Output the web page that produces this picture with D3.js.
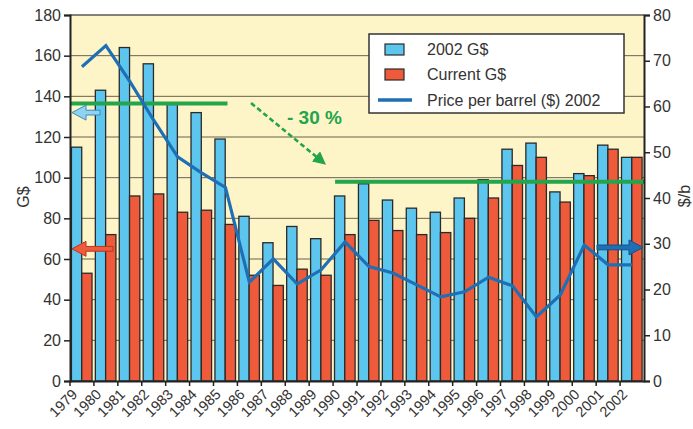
<!DOCTYPE html>
<html>
<head>
<meta charset="utf-8">
<script src="https://cdn.jsdelivr.net/npm/d3@7/dist/d3.min.js"></script>
<style>
  html, body { margin: 0; padding: 0; background: #ffffff; }
  svg { display: block; font-family: "Liberation Sans", Arial, Helvetica, sans-serif; }
</style>
</head>
<body>
<svg id="chart" width="693" height="429"></svg>
<script>
// Oil bill, 1979-2002
const years = ["1979","1980","1981","1982","1983","1984","1985","1986","1987","1988","1989","1990",
               "1991","1992","1993","1994","1995","1996","1997","1998","1999","2000","2001","2002"];
const billConstant2002 = [115,143,164,156,136,132,119,81,68,76,70,91,97,89,85,83,90,99,114,117,93,102,116,110];
const billCurrent      = [53,72,91,92,83,84,77,52,47,55,52,72,79,74,72,73,80,90,106,110,88,101,114,110];
const pricePerBarrel   = [68.7,73.3,65.5,57,49,45.5,42.3,21.6,26.7,21.2,24.3,30.4,25,23.6,21,18.4,19.5,22.7,20.8,14,18.8,29.7,25.4,25.4];
const leftTicks  = [0,20,40,60,80,100,120,140,160,180];
const rightTicks = [0,10,20,30,40,50,60,70,80];
const avgBefore = 136.5;   // average level 1979-1985
const avgAfter  = 98;      // average level 1990-2002
const seriesNames = ["2002 G$", "Current G$", "Price per barrel ($) 2002"];

const C = {
  plotBg: "#fdf5c8", grid: "#6b6150", blue: "#5cc6ef", red: "#ef5a3b",
  line: "#1f6fb5", green: "#22a54b", text: "#333333", stroke: "#2a2a2a"
};

const svg = d3.select("#chart");
const m = { left: 70, right: 644, top: 15, bottom: 381 };

const x = d3.scaleBand().domain(years).range([m.left, m.right]).padding(0);
const yL = d3.scaleLinear().domain([0, 180]).range([m.bottom, m.top]);
const yR = d3.scaleLinear().domain([0, 80]).range([m.bottom, m.top]);

// plot background
svg.append("rect")
  .attr("x", m.left).attr("y", m.top)
  .attr("width", m.right - m.left).attr("height", m.bottom - m.top)
  .attr("fill", C.plotBg);

// horizontal grid
svg.append("g").selectAll("line").data(leftTicks.filter(d => d > 0)).join("line")
  .attr("x1", m.left).attr("x2", m.right)
  .attr("y1", d => yL(d)).attr("y2", d => yL(d))
  .attr("stroke", C.grid).attr("stroke-width", 1);

// bars
const bw = x.bandwidth();
const barW = bw * 0.43;
const off = bw * 0.06;
const bars = svg.append("g");
bars.selectAll("rect.b").data(years).join("rect")
  .attr("class", "b")
  .attr("x", d => x(d) + off).attr("width", barW)
  .attr("y", (d, i) => yL(billConstant2002[i]))
  .attr("height", (d, i) => yL(0) - yL(billConstant2002[i]))
  .attr("fill", C.blue).attr("stroke", C.stroke).attr("stroke-width", 1.3);
bars.selectAll("rect.r").data(years).join("rect")
  .attr("class", "r")
  .attr("x", d => x(d) + off + barW).attr("width", barW)
  .attr("y", (d, i) => yL(billCurrent[i]))
  .attr("height", (d, i) => yL(0) - yL(billCurrent[i]))
  .attr("fill", C.red).attr("stroke", C.stroke).attr("stroke-width", 1.3);

// average levels
svg.append("line")
  .attr("x1", m.left).attr("x2", x("1985") + 14)
  .attr("y1", yL(avgBefore)).attr("y2", yL(avgBefore))
  .attr("stroke", C.green).attr("stroke-width", 4);
svg.append("line")
  .attr("x1", x("1990") + 2).attr("x2", m.right)
  .attr("y1", yL(avgAfter)).attr("y2", yL(avgAfter))
  .attr("stroke", C.green).attr("stroke-width", 4);

// price line
const line = d3.line()
  .x((d, i) => x(years[i]) + bw / 2)
  .y(d => yR(d));
svg.append("path").datum(pricePerBarrel)
  .attr("d", line)
  .attr("fill", "none").attr("stroke", C.line).attr("stroke-width", 3.2)
  .attr("stroke-linejoin", "miter");

// dashed arrow showing the drop
const defs = svg.append("defs");
defs.append("marker").attr("id", "gh")
  .attr("viewBox", "0 0 10 10").attr("refX", 8).attr("refY", 5)
  .attr("markerWidth", 5).attr("markerHeight", 5).attr("orient", "auto")
  .attr("markerUnits", "strokeWidth")
  .append("path").attr("d", "M0,0 L10,5 L0,10 Z").attr("fill", C.green);
svg.append("line")
  .attr("x1", 251).attr("y1", 103).attr("x2", 324).attr("y2", 163)
  .attr("stroke", C.green).attr("stroke-width", 2.6)
  .attr("stroke-dasharray", "5,3")
  .attr("marker-end", "url(#gh)");
svg.append("text")
  .attr("x", 287).attr("y", 124)
  .attr("fill", C.green).attr("font-size", 19).attr("font-weight", "bold")
  .text("- 30 %");

// axis hint arrows
function arrow(xTip, xTail, y, dir, fill, stroke) {
  const h = 7.5, sh = 2.4, head = 14;
  const s = dir; // -1 points left, +1 points right
  const xb = xTip - s * head;
  const pts = [
    [xTip, y], [xb, y - h], [xb, y - sh], [xTail, y - sh],
    [xTail, y + sh], [xb, y + sh], [xb, y + h]
  ];
  svg.append("path")
    .attr("d", "M" + pts.map(p => p.join(",")).join("L") + "Z")
    .attr("fill", fill).attr("stroke", stroke).attr("stroke-width", 1);
}
arrow(72, 100, yL(132), -1, "#8ed3f1", "#3b8cbc");
arrow(72, 113, yL(65), -1, "#ef5a3b", "#b8371f");
arrow(643, 597, yR(29.2), 1, "#1f6fb5", "#14508a");

// frame
svg.append("line").attr("x1", m.left).attr("x2", m.right).attr("y1", m.top).attr("y2", m.top)
  .attr("stroke", "#555").attr("stroke-width", 1);

// axes
const axL = d3.axisLeft(yL).tickValues(leftTicks).tickSize(6).tickPadding(3);
const gL = svg.append("g").attr("transform", `translate(${m.left},0)`).call(axL);
const axR = d3.axisRight(yR).tickValues(rightTicks).tickSize(6).tickPadding(3);
const gR = svg.append("g").attr("transform", `translate(${m.right},0)`).call(axR);
const axB = d3.axisBottom(x).tickSize(0).tickFormat("");
const gB = svg.append("g").attr("transform", `translate(0,${m.bottom})`).call(axB);

[gL, gR, gB].forEach(g => {
  g.select(".domain").attr("stroke", "#222").attr("stroke-width", 2);
  g.selectAll(".tick line").attr("stroke", "#222").attr("stroke-width", 1.5);
  g.selectAll("text").attr("fill", C.text).attr("font-size", 16)
    .attr("font-family", "'Liberation Sans', Arial, sans-serif");
});

// category ticks and labels at group boundaries
const xt = svg.append("g");
xt.selectAll("line").data(years).join("line")
  .attr("x1", d => x(d)).attr("x2", d => x(d))
  .attr("y1", m.bottom).attr("y2", m.bottom + 5)
  .attr("stroke", "#222").attr("stroke-width", 1.5);
xt.selectAll("text").data(years).join("text")
  .attr("transform", d => `translate(${x(d) + 1},${m.bottom + 7}) rotate(-45)`)
  .attr("text-anchor", "end")
  .attr("dy", "0.7em")
  .attr("fill", C.text).attr("font-size", 14.5)
  .text(d => d);

// axis titles
svg.append("text")
  .attr("transform", `translate(29,197) rotate(-90)`)
  .attr("text-anchor", "middle").attr("fill", C.text).attr("font-size", 16)
  .text("G$");
svg.append("text")
  .attr("transform", `translate(690,196) rotate(-90)`)
  .attr("text-anchor", "middle").attr("fill", C.text).attr("font-size", 16)
  .text("$/b");

// legend
const lg = svg.append("g");
lg.append("rect").attr("x", 369).attr("y", 34).attr("width", 255).attr("height", 79)
  .attr("fill", "#ffffff").attr("stroke", "#333").attr("stroke-width", 1.5);
const rowY = [49, 74, 100];
lg.append("rect").attr("x", 385).attr("y", rowY[0] - 5).attr("width", 19).attr("height", 11)
  .attr("fill", C.blue).attr("stroke", C.stroke).attr("stroke-width", 1.2);
lg.append("rect").attr("x", 385).attr("y", rowY[1] - 5).attr("width", 19).attr("height", 11)
  .attr("fill", C.red).attr("stroke", C.stroke).attr("stroke-width", 1.2);
lg.append("line").attr("x1", 378).attr("x2", 412).attr("y1", rowY[2]).attr("y2", rowY[2])
  .attr("stroke", C.line).attr("stroke-width", 3.5);
lg.selectAll("text").data(seriesNames).join("text")
  .attr("x", 427).attr("y", (d, i) => rowY[i])
  .attr("dy", "0.36em").attr("fill", C.text).attr("font-size", 16)
  .text(d => d);
</script>
</body>
</html>
